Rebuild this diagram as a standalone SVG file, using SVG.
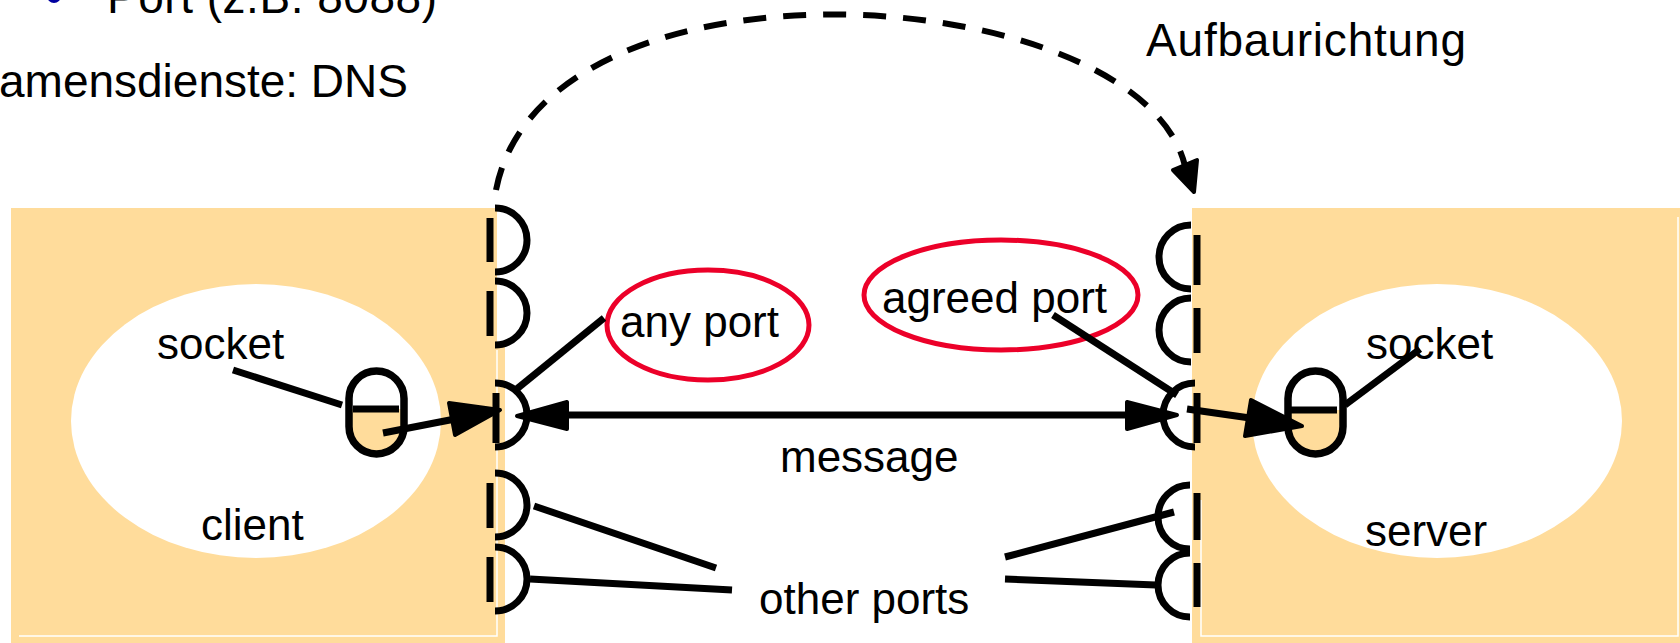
<svg xmlns="http://www.w3.org/2000/svg" width="1680" height="643" viewBox="0 0 1680 643">
<defs>
<style>
.box{fill:#FFDC9B}
.inset{fill:none;stroke:#FFFFFF;stroke-width:1.5}
.proc{fill:#FFFFFF}
.t{font-family:"Liberation Sans",Arial,sans-serif;font-size:44px;fill:#000}
.tb{font-family:"Liberation Sans",Arial,sans-serif;font-size:46px;fill:#000}
.port{fill:none;stroke:#000;stroke-width:7}
.bar{fill:none;stroke:#000;stroke-width:7}
.sock{fill:none;stroke:#000;stroke-width:7.5}
.half{fill:#FFDC9B}
.ln{fill:none;stroke:#000;stroke-width:7}
.head{fill:#000;stroke:#000;stroke-width:4;stroke-linejoin:round}
.red{fill:none;stroke:#EC0029;stroke-width:5}
.dash{fill:none;stroke:#000;stroke-width:6;stroke-dasharray:23 17}
</style>
</defs>
<rect width="1680" height="643" fill="#FFFFFF"/>

<g id="slide-text">
<circle cx="54" cy="-4" r="7" fill="#0000A0"/>
<text class="tb" x="107" y="13" textLength="330">Port (z.B. 8088)</text>
<text class="tb" x="-1" y="97" textLength="409">amensdienste: DNS</text>
</g>

<g id="client-host">
<rect class="box" x="11" y="208" width="486" height="435"/>
<rect class="box" x="497" y="347" width="8" height="296"/>
<polyline class="inset" points="19,636 497,636 497,350"/>
<ellipse class="proc" cx="256" cy="421" rx="185" ry="137"/>
<text class="t" x="157" y="359">socket</text>
<text class="t" x="201" y="540">client</text>
</g>

<g id="server-host">
<rect class="box" x="1192" y="208" width="488" height="435"/>
<polyline class="inset" points="1201,500 1201,636 1678,636 1678,217"/>
<ellipse class="proc" cx="1437" cy="421" rx="185" ry="137"/>
<text class="t" x="1366" y="359">socket</text>
<text class="t" x="1365" y="546">server</text>
</g>

<g id="client-ports">
<path class="port" d="M495,208 A32,32 0 0 1 495,272"/>
<line class="bar" x1="490" y1="218" x2="490" y2="262"/>
<path class="port" d="M495,281 A32,32 0 0 1 495,345"/>
<line class="bar" x1="490" y1="291" x2="490" y2="336"/>
<path class="port" d="M495,383 A32,32 0 0 1 495,447"/>
<line class="bar" x1="496" y1="393" x2="496" y2="443"/>
<path class="port" d="M495,473 A32,32 0 0 1 495,537"/>
<line class="bar" x1="490" y1="483" x2="490" y2="528"/>
<path class="port" d="M495,547 A32,32 0 0 1 495,611"/>
<line class="bar" x1="490" y1="557" x2="490" y2="602"/>
</g>

<g id="server-ports">
<path class="port" d="M1191,225 A32,32 0 0 0 1191,289"/>
<line class="bar" x1="1197" y1="235" x2="1197" y2="285"/>
<path class="port" d="M1191,298 A32,32 0 0 0 1191,362"/>
<line class="bar" x1="1197" y1="308" x2="1197" y2="353"/>
<path class="port" d="M1195,383 A32,32 0 0 0 1195,447"/>
<line class="bar" x1="1197" y1="393" x2="1197" y2="443"/>
<path class="port" d="M1190,485 A32,32 0 0 0 1190,549"/>
<line class="bar" x1="1197" y1="493" x2="1197" y2="540"/>
<path class="port" d="M1190,553 A32,32 0 0 0 1190,617"/>
<line class="bar" x1="1197" y1="563" x2="1197" y2="607"/>
</g>

<g id="client-socket">
<path class="half" d="M349,409 H404 V426.5 A27.5,27.5 0 0 1 349,426.5 Z"/>
<rect class="sock" x="349" y="371" width="55" height="83" rx="27.5" ry="27.5"/>
<line class="ln" x1="353" y1="409" x2="399" y2="409"/>
</g>

<g id="server-socket">
<path class="half" d="M1288,410 H1343 V426.5 A27.5,27.5 0 0 1 1288,426.5 Z"/>
<rect class="sock" x="1288" y="371" width="55" height="83" rx="27.5" ry="27.5"/>
<line class="ln" x1="1291" y1="410" x2="1337" y2="410"/>
</g>

<g id="any-port">
<ellipse class="red" cx="708" cy="325" rx="101" ry="55"/>
<text class="t" x="620" y="337">any port</text>
</g>

<g id="agreed-port">
<ellipse class="red" cx="1001" cy="295" rx="137" ry="55"/>
<text class="t" x="882" y="313">agreed port</text>
</g>

<g id="labels">
<text class="t" x="780" y="472">message</text>
<text class="t" x="759" y="614">other ports</text>
<text class="tb" x="1146" y="56" textLength="320">Aufbaurichtung</text>
</g>

<g id="connectors">
<path class="dash" d="M496,190 C545,-60 1140,-20 1185,166"/>
<polygon class="head" points="1173,170 1197,160 1194,192"/>

<line class="ln" x1="233" y1="370" x2="342" y2="405"/>
<line class="ln" x1="383" y1="433" x2="455" y2="419"/>
<polygon class="head" points="500,410 449,403 455,435"/>

<line class="ln" x1="560" y1="415" x2="1135" y2="415"/>
<polygon class="head" points="517,416 567,402 567,429"/>
<polygon class="head" points="1177,415 1127,402 1127,429"/>

<line class="ln" x1="1187" y1="409" x2="1250" y2="418"/>
<polygon class="head" points="1302,426 1251,400 1245,436"/>
<line class="ln" x1="1345" y1="405" x2="1420" y2="349"/>

<line class="ln" x1="513" y1="392" x2="604" y2="318"/>
<line class="ln" x1="1053" y1="315" x2="1177" y2="395"/>

<line class="ln" x1="534" y1="506" x2="716" y2="568"/>
<line class="ln" x1="530" y1="579" x2="732" y2="590"/>
<line class="ln" x1="1005" y1="557" x2="1174" y2="512"/>
<line class="ln" x1="1005" y1="579" x2="1156" y2="585"/>
</g>
</svg>
